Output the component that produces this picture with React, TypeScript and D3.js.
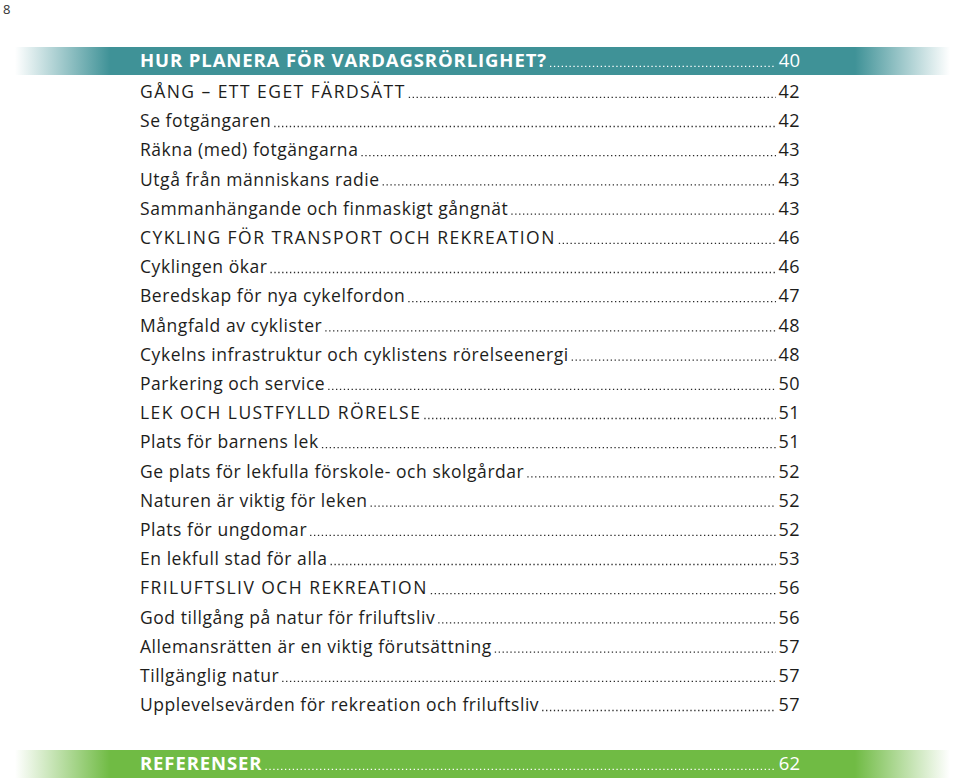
import React, { useRef, useEffect } from 'react';
import * as d3 from 'd3';

// table of contents: titles, page numbers and which rows are section heads
const titles = [
  'GÅNG – ETT EGET FÄRDSÄTT',
  'Se fotgängaren',
  'Räkna (med) fotgängarna',
  'Utgå från människans radie',
  'Sammanhängande och finmaskigt gångnät',
  'CYKLING FÖR TRANSPORT OCH REKREATION',
  'Cyklingen ökar',
  'Beredskap för nya cykelfordon',
  'Mångfald av cyklister',
  'Cykelns infrastruktur och cyklistens rörelseenergi',
  'Parkering och service',
  'LEK OCH LUSTFYLLD RÖRELSE',
  'Plats för barnens lek',
  'Ge plats för lekfulla förskole- och skolgårdar',
  'Naturen är viktig för leken',
  'Plats för ungdomar',
  'En lekfull stad för alla',
  'FRILUFTSLIV OCH REKREATION',
  'God tillgång på natur för friluftsliv',
  'Allemansrätten är en viktig förutsättning',
  'Tillgänglig natur',
  'Upplevelsevärden för rekreation och friluftsliv',
];
const pages = ['42', '42', '43', '43', '43', '46', '46', '47', '48', '48', '50', '51', '51', '52', '52', '52', '53', '56', '56', '57', '57', '57'];

const bars = [
  { title: 'HUR PLANERA FÖR VARDAGSRÖRLIGHET?', page: '40', color: '#3f9297' },
  { title: 'REFERENSER', page: '62', color: '#70bb44' },
];

const W = 960;
const H = 781;
const textX = 140;
const numEnd = 800;
const dotEnd = 776;
const font = "'Open Sans', sans-serif";

const isCaps = (s: string) => s === s.toUpperCase();

const App = () => {
  const svgRef = useRef<SVGSVGElement>(null);

  const y = d3.scaleLinear().domain([0, titles.length - 1]).range([98, 711.2]);

  useEffect(() => {
    const svg = d3.select(svgRef.current);
    // leaders start where each title ends
    svg.selectAll<SVGTextElement, unknown>('text.title').each(function () {
      const t = this as SVGTextElement;
      const box = t.getBBox();
      const end = box.x + box.width + 3;
      const id = t.getAttribute('data-i');
      svg.select(`line.lead-${id}`).attr('x1', end);
    });
  }, []);

  const barY = [47, 750];
  const barBase = [67, 770];

  return (
    <svg ref={svgRef} width={W} height={H} style={{ display: 'block', position: 'absolute', left: 0, top: 0 }}>
      <defs>
        {bars.map((b, i) => (
          <linearGradient key={i} id={`bar${i}`} x1="0" x2={W} gradientUnits="userSpaceOnUse">
            <stop offset={15 / W} stopColor={b.color} stopOpacity={0} />
            <stop offset={110 / W} stopColor={b.color} stopOpacity={1} />
            <stop offset={855 / W} stopColor={b.color} stopOpacity={1} />
            <stop offset={950 / W} stopColor={b.color} stopOpacity={0} />
          </linearGradient>
        ))}
      </defs>
      <rect width={W} height={H} fill="#fff" />
      <text x={3} y={14} fontFamily={font} fontSize={13} fill="#333">8</text>

      {bars.map((b, i) => (
        <g key={b.title}>
          <rect x={0} y={barY[i]} width={W} height={28} fill={`url(#bar${i})`} />
          <text className="title" data-i={`b${i}`} x={textX} y={barBase[i]} fontFamily={font} fontSize={18.5}
            fontWeight={700} letterSpacing={0.9} fill="#fff">
            {b.title}
          </text>
          <line className={`lead-b${i}`} x1={textX + 300} x2={dotEnd} y1={barBase[i] - 0.7} y2={barBase[i] - 0.7}
            stroke="#fff" strokeWidth={1.3} strokeDasharray="1.3 2.6" />
          <text x={numEnd} y={barBase[i]} textAnchor="end" fontFamily={font} fontSize={18.5} fill="#fff">{b.page}</text>
        </g>
      ))}

      {titles.map((t, i) => (
        <g key={i}>
          <text className="title" data-i={i} x={textX} y={y(i)} fontFamily={font} fontSize={17.5}
            letterSpacing={isCaps(t) ? 1.45 : 0.55} fill="#1d1d1b">
            {t}
          </text>
          <line className={`lead-${i}`} x1={textX + 200} x2={dotEnd} y1={y(i) - 0.7} y2={y(i) - 0.7}
            stroke="#2a2a2a" strokeWidth={1.3} strokeDasharray="1.3 2.6" />
          <text x={numEnd} y={y(i)} textAnchor="end" fontFamily={font} fontSize={18} letterSpacing={0.4} fill="#1d1d1b">{pages[i]}</text>
        </g>
      ))}
    </svg>
  );
};

export default App;
